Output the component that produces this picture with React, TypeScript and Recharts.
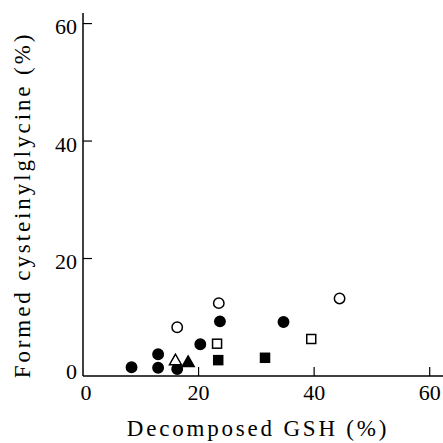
import { Scatter, ScatterChart, XAxis, YAxis } from "recharts"

// values: decomposed GSH (%) vs formed cysteinylglycine (%)
const filledCircleX = [8.4, 13, 13, 16.3, 20.3, 23.7, 34.7]
const filledCircleY = [1.5, 1.4, 3.7, 1.2, 5.4, 9.3, 9.2]
const openCircleX = [16.3, 23.5, 44.4]
const openCircleY = [8.3, 12.4, 13.2]
const openTriangleX = [16]
const openTriangleY = [2.7]
const filledTriangleX = [18.2]
const filledTriangleY = [2.4]
const openSquareX = [23.2, 39.5]
const openSquareY = [5.5, 6.3]
const filledSquareX = [23.4, 31.5]
const filledSquareY = [2.7, 3.1]

const xTicks = [0, 20, 40, 60]
const yTicks = [0, 20, 40, 60]

const FONT = '"Liberation Serif", "DejaVu Serif", serif'

const pts = (xs: number[], ys: number[]) => xs.map((x, i) => ({ x, y: ys[i] }))

const circle = (fill: string) => (p: any) => (
  <circle cx={p.cx} cy={p.cy} r={5.2} fill={fill} stroke="#000" strokeWidth={1.5} />
)
const square = (fill: string) => (p: any) => (
  <rect x={p.cx - 4.5} y={p.cy - 4.5} width={9} height={9} fill={fill} stroke="#000" strokeWidth={1.5} />
)
const triangle = (fill: string) => (p: any) => (
  <polygon
    points={`${p.cx},${p.cy - 6} ${p.cx - 6},${p.cy + 4.5} ${p.cx + 6},${p.cy + 4.5}`}
    fill={fill}
    stroke="#000"
    strokeWidth={1.5}
  />
)

function XTick({ x, y, payload }: any) {
  const v = payload.value
  return (
    <g>
      {v !== 0 && <line x1={x} x2={x} y1={y} y2={y - 9} stroke="#000" strokeWidth={1.2} />}
      <text
        x={v === 0 ? x + 3 : x}
        y={y + 16}
        textAnchor="middle"
        dominantBaseline="central"
        fontFamily={FONT}
        fontSize={22}
        fill="#000"
      >
        {v}
      </text>
    </g>
  )
}

function YTick({ x, y, payload }: any) {
  const v = payload.value
  return (
    <g>
      {v !== 0 && <line x1={x} x2={x + 9} y1={y} y2={y} stroke="#000" strokeWidth={1.2} />}
      <text
        x={x - 6}
        y={v === 0 ? y - 5 : y + 3}
        textAnchor="end"
        dominantBaseline="central"
        fontFamily={FONT}
        fontSize={22}
        fill="#000"
      >
        {v}
      </text>
    </g>
  )
}

export default function App() {
  return (
    <div style={{ position: "absolute", left: 0, top: 0, width: 443, height: 443, background: "#fff" }}>
      <ScatterChart width={443} height={443} margin={{ top: 13, right: 0, bottom: 0, left: 0 }}>
        <XAxis
          type="number"
          dataKey="x"
          domain={[0, 62.3]}
          ticks={xTicks}
          allowDataOverflow
          height={67}
          tickSize={0}
          tickMargin={0}
          tickLine={false}
          axisLine={{ stroke: "#000", strokeWidth: 1.5 }}
          tick={<XTick />}
          label={{
            content: () => (
              <text
                x={258}
                y={428}
                textAnchor="middle"
                dominantBaseline="central"
                fontFamily={FONT}
                fontSize={23}
                letterSpacing={2.8}
                fill="#000"
              >
                Decomposed GSH (%)
              </text>
            ),
          }}
        />
        <YAxis
          type="number"
          dataKey="y"
          domain={[0, 61.8]}
          ticks={yTicks}
          allowDataOverflow
          width={83}
          tickSize={0}
          tickMargin={0}
          tickLine={false}
          axisLine={{ stroke: "#000", strokeWidth: 1.5 }}
          tick={<YTick />}
          label={{
            content: () => (
              <text
                x={22}
                y={205}
                textAnchor="middle"
                dominantBaseline="central"
                fontFamily={FONT}
                fontSize={23}
                letterSpacing={2.9}
                fill="#000"
                transform="rotate(-90 22 205)"
              >
                Formed cysteinylglycine (%)
              </text>
            ),
          }}
        />
        <Scatter data={pts(filledCircleX, filledCircleY)} shape={circle("#000")} isAnimationActive={false} />
        <Scatter data={pts(openCircleX, openCircleY)} shape={circle("#fff")} isAnimationActive={false} />
        <Scatter data={pts(openTriangleX, openTriangleY)} shape={triangle("#fff")} isAnimationActive={false} />
        <Scatter data={pts(filledTriangleX, filledTriangleY)} shape={triangle("#000")} isAnimationActive={false} />
        <Scatter data={pts(openSquareX, openSquareY)} shape={square("#fff")} isAnimationActive={false} />
        <Scatter data={pts(filledSquareX, filledSquareY)} shape={square("#000")} isAnimationActive={false} />
      </ScatterChart>
    </div>
  )
}
